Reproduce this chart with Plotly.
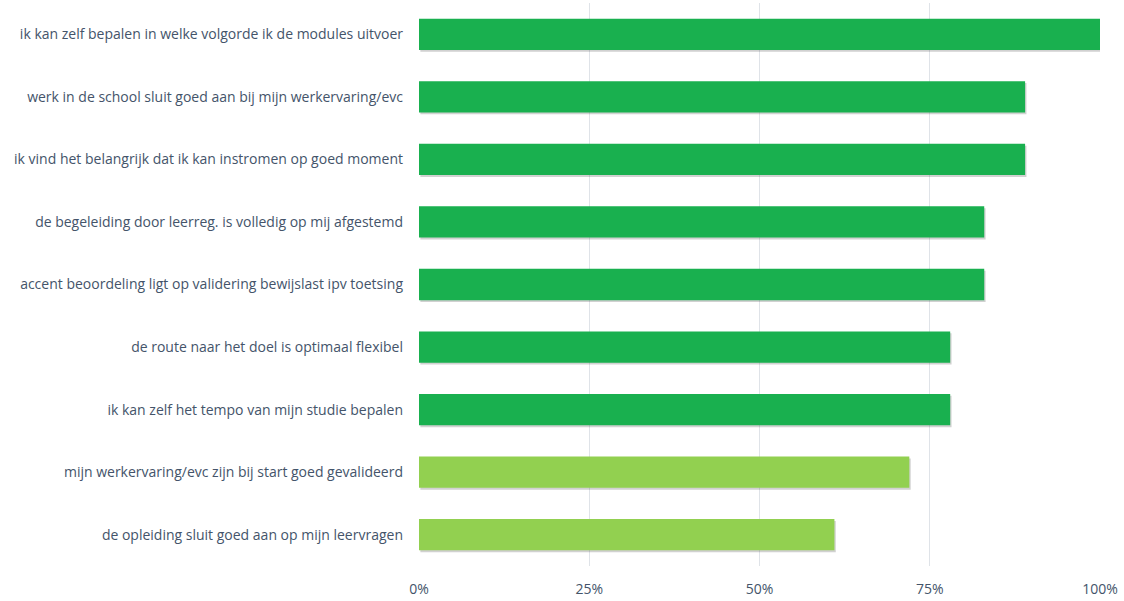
import plotly.graph_objects as go

# Statements (top to bottom) and share of agreement
statements = [
    "ik kan zelf bepalen in welke volgorde ik de modules uitvoer",
    "werk in de school sluit goed aan bij mijn werkervaring/evc",
    "ik vind het belangrijk dat ik kan instromen op goed moment",
    "de begeleiding door leerreg. is volledig op mij afgestemd",
    "accent beoordeling ligt op validering bewijslast ipv toetsing",
    "de route naar het doel is optimaal flexibel",
    "ik kan zelf het tempo van mijn studie bepalen",
    "mijn werkervaring/evc zijn bij start goed gevalideerd",
    "de opleiding sluit goed aan op mijn leervragen",
]
scores = [1.00, 0.89, 0.89, 0.83, 0.83, 0.78, 0.78, 0.72, 0.61]
tick_vals = [0, 0.25, 0.5, 0.75, 1.0]
tick_text = ["0%", "25%", "50%", "75%", "100%"]

DARK_GREEN = "#19b04f"
LIGHT_GREEN = "#92d050"
bar_colors = [DARK_GREEN if v >= 0.75 else LIGHT_GREEN for v in scores]

TEXT = "#44546a"
FONT = "'Open Sans', Lato, sans-serif"

fig = go.Figure()

# soft drop shadow under each bar
fig.add_trace(go.Bar(
    x=scores, y=statements, orientation="h",
    width=0.5, offset=-0.22, base=0.002,
    marker=dict(color="rgba(90,90,90,0.28)", line=dict(width=0)),
    hoverinfo="skip", showlegend=False,
))
fig.add_trace(go.Bar(
    x=scores, y=statements, orientation="h",
    width=0.5, offset=-0.25,
    marker=dict(color=bar_colors, line=dict(width=0)),
    showlegend=False,
))

fig.update_layout(
    width=1124, height=601,
    margin=dict(l=419, r=24, t=3, b=33),
    paper_bgcolor="white", plot_bgcolor="white",
    barmode="overlay",
    font=dict(family=FONT, size=14, color=TEXT),
    xaxis=dict(
        range=[0, 1.0], tickvals=tick_vals, ticktext=tick_text,
        showgrid=True, gridcolor="#dfe3e8", gridwidth=1,
        zeroline=False, showline=False, ticks="",
        tickfont=dict(family=FONT, size=14, color=TEXT),
        ticklabelstandoff=13,
    ),
    yaxis=dict(
        autorange="reversed", showgrid=False, zeroline=False, showline=False,
        ticks="", tickfont=dict(family=FONT, size=14, color=TEXT),
        ticklabelstandoff=15,
    ),
)

fig.write_html("out.html")
